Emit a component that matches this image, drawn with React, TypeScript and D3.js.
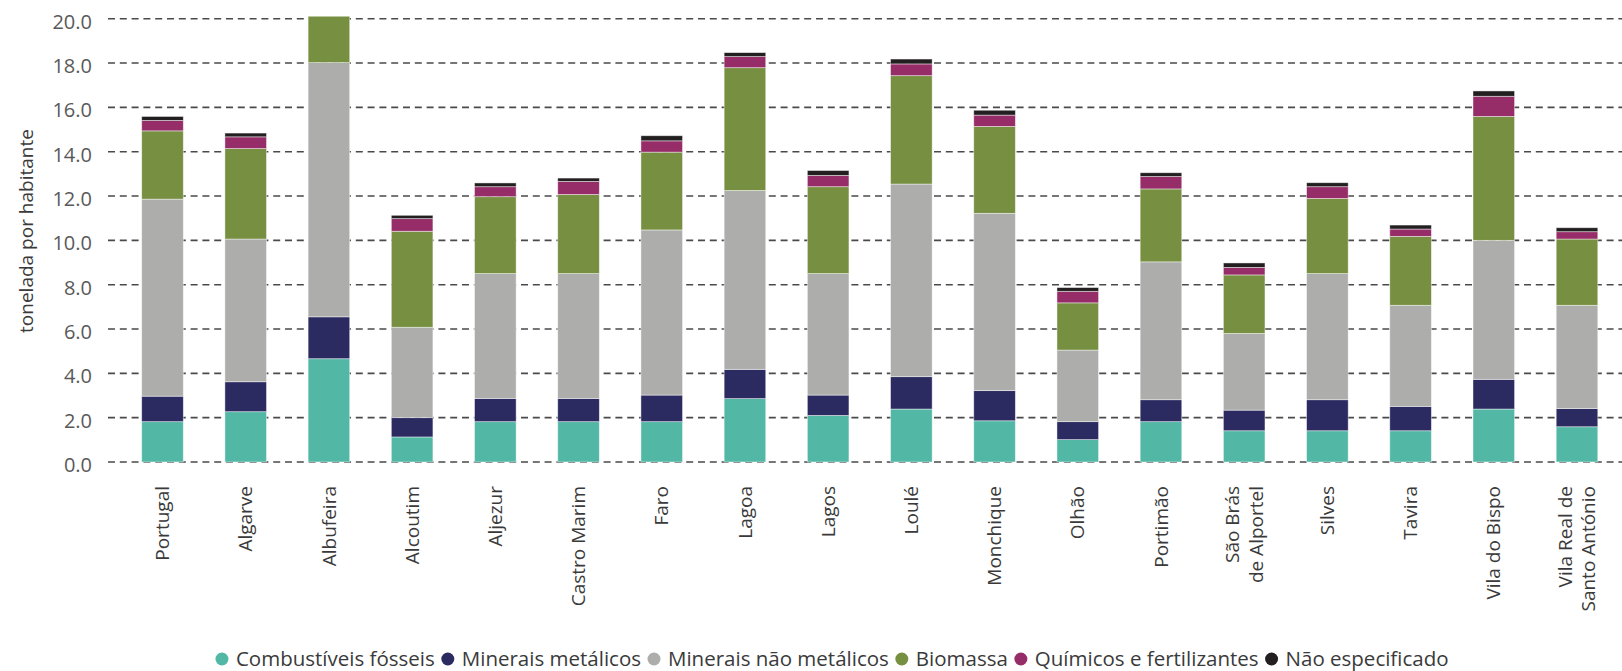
import React, { useEffect, useMemo } from "react";
import * as d3 from "d3";

const categories: string[][] = [
  ["Portugal"], ["Algarve"], ["Albufeira"], ["Alcoutim"], ["Aljezur"], ["Castro Marim"],
  ["Faro"], ["Lagoa"], ["Lagos"], ["Loulé"], ["Monchique"], ["Olhão"], ["Portimão"],
  ["São Brás", "de Alportel"], ["Silves"], ["Tavira"], ["Vila do Bispo"], ["Vila Real de", "Santo António"],
];

const seriesNames = [
  "Combustíveis fósseis",
  "Minerais metálicos",
  "Minerais não metálicos",
  "Biomassa",
  "Químicos e fertilizantes",
  "Não especificado",
];

const fossil = [1.82, 2.27, 4.66, 1.13, 1.82, 1.82, 1.82, 2.86, 2.10, 2.39, 1.86, 1.01, 1.82, 1.41, 1.41, 1.41, 2.39, 1.59];
const metal = [1.15, 1.35, 1.89, 0.87, 1.05, 1.05, 1.20, 1.32, 0.92, 1.46, 1.36, 0.81, 0.99, 0.93, 1.40, 1.10, 1.34, 0.82];
const nonmetal = [8.89, 6.44, 11.47, 4.08, 5.63, 5.63, 7.45, 8.07, 5.48, 8.69, 8.00, 3.23, 6.22, 3.46, 5.69, 4.56, 6.27, 4.66];
const biomass = [3.08, 4.08, 2.80, 4.33, 3.47, 3.57, 3.51, 5.54, 3.92, 4.89, 3.92, 2.13, 3.29, 2.64, 3.39, 3.11, 5.59, 2.99];
const chem = [0.47, 0.53, 0.55, 0.57, 0.45, 0.59, 0.51, 0.50, 0.51, 0.53, 0.51, 0.52, 0.56, 0.34, 0.53, 0.33, 0.91, 0.33];
const unspec = [0.18, 0.17, 0.20, 0.15, 0.17, 0.15, 0.23, 0.18, 0.22, 0.22, 0.22, 0.17, 0.17, 0.20, 0.18, 0.18, 0.24, 0.18];

const yTicks = [0, 2, 4, 6, 8, 10, 12, 14, 16, 18, 20];

const colors = ["#52b8a5", "#2b2a61", "#adadab", "#768f41", "#962d68", "#231f20"];

const W = 1622;
const H = 671;
const FONT = "'Open Sans', 'Noto Sans', sans-serif";
const LEGEND_FONT = 20.5;

export default function App() {
  useEffect(() => {
    document.body.style.margin = "0";
  }, []);

  const seriesValues = [fossil, metal, nonmetal, biomass, chem, unspec];
  const rows = categories.map((c, i) => {
    const r: any = { key: i };
    seriesNames.forEach((s, j) => (r[s] = seriesValues[j][i]));
    return r;
  });
  const stacked = d3.stack<any>().keys(seriesNames)(rows);

  const x = d3
    .scaleBand<number>()
    .domain(categories.map((_, i) => i))
    .range([120.9, 1618.6])
    .paddingInner(0.5)
    .paddingOuter(0.25);
  const y = d3.scaleLinear().domain([0, 20]).range([462, 18.7]);

  const gridX0 = 108;
  const gridX1 = W;

  const legend = useMemo(() => {
    const cv = document.createElement("canvas");
    const ctx = cv.getContext("2d")!;
    ctx.font = `${LEGEND_FONT}px ${FONT}`;
    const r = 6.5;
    const textGap = 14;
    const itemGap = 13;
    const widths = seriesNames.map((s) => ctx.measureText(s).width);
    let total = r;
    widths.forEach((w, i) => {
      total += textGap + w + (i < widths.length - 1 ? itemGap : 0);
    });
    let cx = 832 - total / 2 + r;
    return seriesNames.map((s, i) => {
      const item = { name: s, cx, tx: cx + textGap, color: colors[i] };
      cx += textGap + widths[i] + itemGap;
      return item;
    });
  }, []);

  return (
    <svg width={W} height={H} style={{ display: "block", position: "absolute", left: 0, top: 0 }} fontFamily={FONT}>
      <defs>
        <clipPath id="plotClip">
          <rect x={0} y={16.5} width={W} height={470} />
        </clipPath>
      </defs>
      <g>
        {yTicks.map((t) => (
          <line
            key={t}
            x1={gridX0}
            x2={gridX1}
            y1={y(t)}
            y2={y(t)}
            stroke="#4a4a4a"
            strokeWidth={1.6}
            strokeDasharray="7,4.8"
          />
        ))}
      </g>
      <g fontSize={20} fill="#595959" textAnchor="end">
        {yTicks.map((t) => (
          <text key={t} x={92} y={y(t)} dy="0.5em">
            {d3.format(".1f")(t)}
          </text>
        ))}
      </g>
      <text
        transform={`translate(33,231) rotate(-90)`}
        textAnchor="middle"
        fontSize={19}
        fill="#3a3a3a"
      >
        tonelada por habitante
      </text>
      <g clipPath="url(#plotClip)">
        {stacked.map((s, si) => (
          <g key={s.key} fill={colors[si]}>
            {s.map((d, i) => (
              <rect
                key={i}
                x={x(i)}
                width={x.bandwidth()}
                y={y(d[1])}
                height={Math.max(0, y(d[0]) - y(d[1]))}
                stroke="rgba(255,255,255,0.55)"
                strokeWidth={0.8}
              />
            ))}
          </g>
        ))}
      </g>
      <g fontSize={19} fill="#3a3a3a" textAnchor="end">
        {categories.map((lines, i) => {
          const cx = (x(i) as number) + x.bandwidth() / 2;
          const n = lines.length;
          return lines.map((ln, li) => {
            const off = (li - (n - 1) / 2) * 23.5;
            return (
              <text key={`${i}-${li}`} transform={`translate(${cx + off},486) rotate(-90)`} dy="0.35em">
                {ln}
              </text>
            );
          });
        })}
      </g>
      <g fontSize={LEGEND_FONT} fill="#3a3a3a">
        {legend.map((l) => (
          <g key={l.name}>
            <circle cx={l.cx} cy={659} r={6.5} fill={l.color} />
            <text x={l.tx} y={659} dy="0.36em">
              {l.name}
            </text>
          </g>
        ))}
      </g>
    </svg>
  );
}
